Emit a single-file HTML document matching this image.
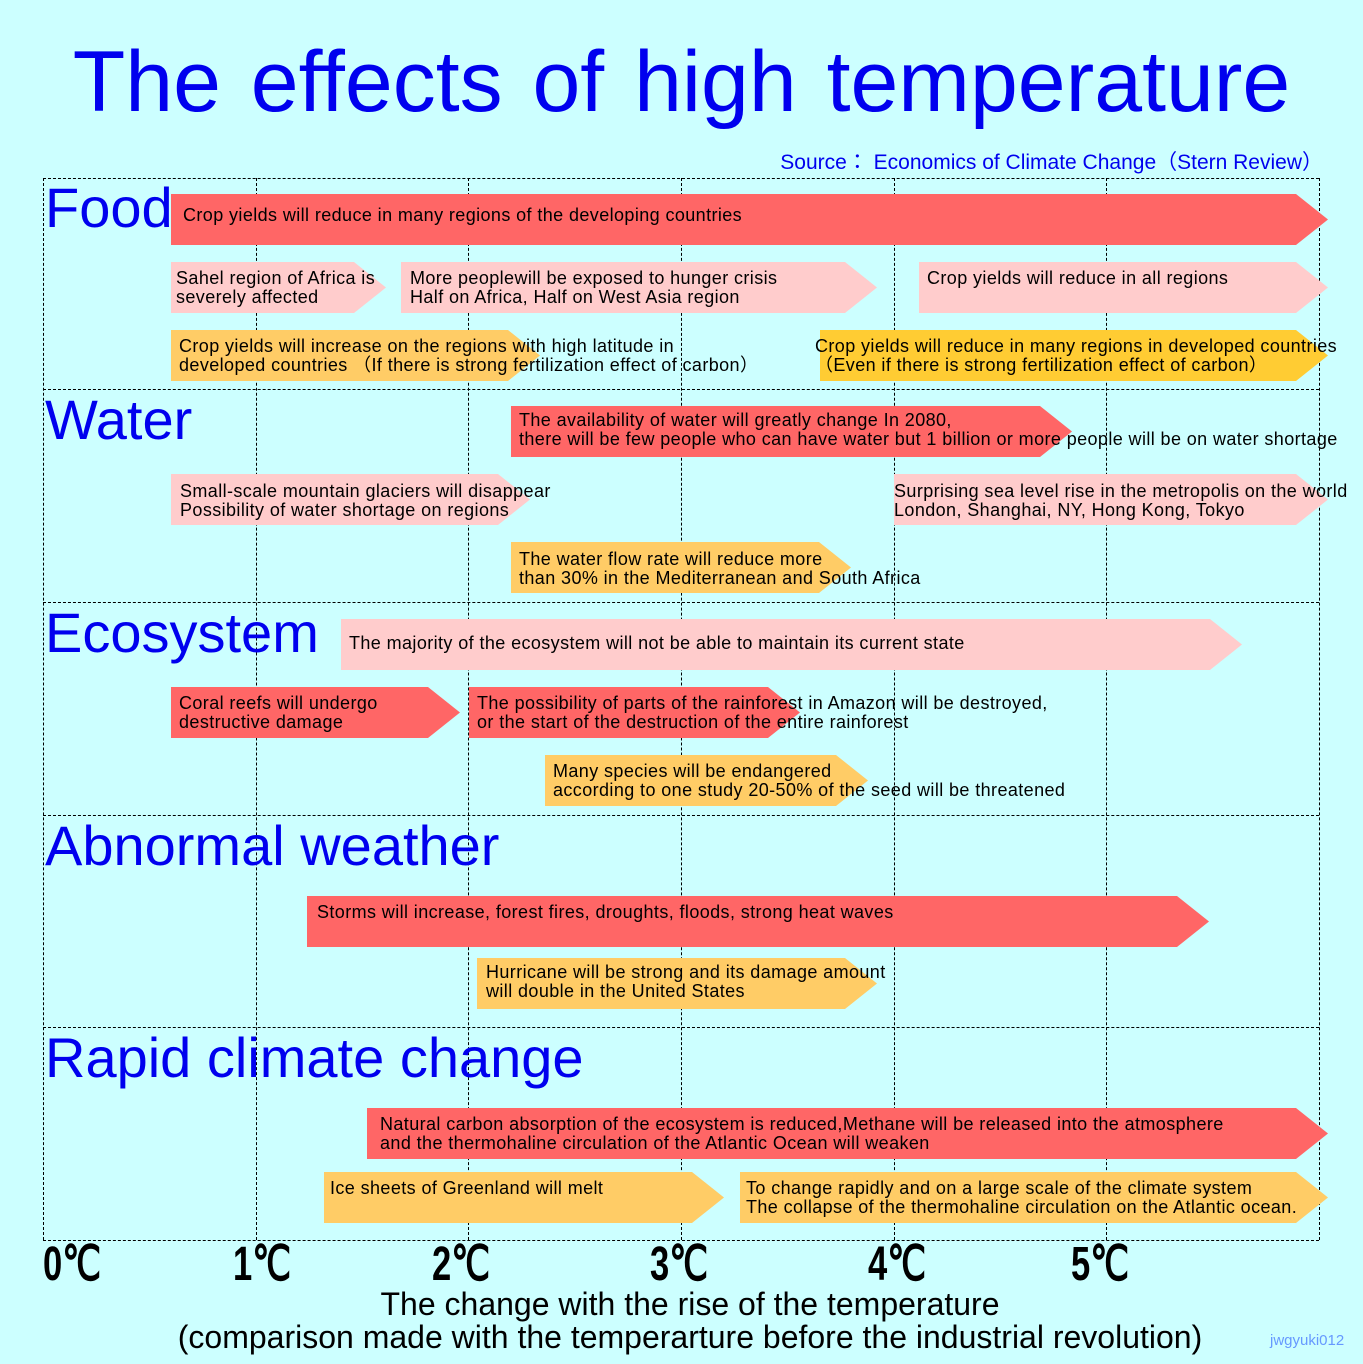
<!DOCTYPE html>
<html><head><meta charset="utf-8"><style>
*{margin:0;padding:0}
body{width:1363px;height:1364px;background:#ccffff;position:relative;overflow:hidden;font-family:"Liberation Sans","Noto Sans CJK JP",sans-serif}
.a{position:absolute;height:51px;}
.a .s{position:absolute;left:0;top:0;width:100%;height:100%;}
.a .t{position:absolute;left:8px;white-space:nowrap;font-size:18px;letter-spacing:0.4px;line-height:19px;color:#000}
.r{background:#ff6666}.p{background:#ffcccc}.o{background:#ffcc66}.d{background:#ffcc33}
.v{position:absolute;top:178px;height:1062px;border-left:1px dashed #000;width:0}
.h{position:absolute;left:43px;width:1276px;border-top:1px dashed #000;height:0}
.sec{position:absolute;left:45px;color:#0000ee;font-size:56px;line-height:56px}
.ax{position:absolute;top:1236px;font-family:"Liberation Sans Narrow","Liberation Sans",sans-serif;font-weight:bold;font-size:48px;transform:scaleX(0.72);transform-origin:left}
</style></head><body>
<div style="position:absolute;left:0;top:36px;width:1363px;text-align:center;color:#0000ee;font-size:86px;line-height:92px;word-spacing:6px">The effects of high temperature</div>
<div style="position:absolute;right:40px;top:146px;color:#0000ee;font-size:21px">Source： Economics of Climate Change（Stern Review）</div>
<div class="v" style="left:43px"></div><div class="v" style="left:256px"></div><div class="v" style="left:468px"></div><div class="v" style="left:681px"></div><div class="v" style="left:894px"></div><div class="v" style="left:1106px"></div><div class="v" style="left:1319px"></div>
<div class="h" style="top:178px"></div><div class="h" style="top:389px"></div><div class="h" style="top:602px"></div><div class="h" style="top:815px"></div><div class="h" style="top:1027px"></div><div class="h" style="top:1240px"></div>
<div class="sec" style="top:180px">Food</div>
<div class="sec" style="top:392px">Water</div>
<div class="sec" style="top:605px">Ecosystem</div>
<div class="sec" style="top:818px">Abnormal weather</div>
<div class="sec" style="top:1030px">Rapid climate change</div>

<div class="a" style="left:171px;top:194px;width:1157px"><div class="s r" style="clip-path:polygon(0 0,calc(100% - 32px) 0,100% 50%,calc(100% - 32px) 100%,0 100%)"></div><div class="t" style="left:12px;top:12px">Crop yields will reduce in many regions of the developing countries</div></div>
<div class="a" style="left:171px;top:262px;width:215px"><div class="s p" style="clip-path:polygon(0 0,calc(100% - 32px) 0,100% 50%,calc(100% - 32px) 100%,0 100%)"></div><div class="t" style="left:5px;top:7px">Sahel region of Africa is<br>severely affected</div></div>
<div class="a" style="left:401px;top:262px;width:476px"><div class="s p" style="clip-path:polygon(0 0,calc(100% - 32px) 0,100% 50%,calc(100% - 32px) 100%,0 100%)"></div><div class="t" style="left:9px;top:7px">More peoplewill be exposed to hunger crisis<br>Half on Africa, Half on West Asia region</div></div>
<div class="a" style="left:919px;top:262px;width:409px"><div class="s p" style="clip-path:polygon(0 0,calc(100% - 32px) 0,100% 50%,calc(100% - 32px) 100%,0 100%)"></div><div class="t" style="left:8px;top:7px">Crop yields will reduce in all regions</div></div>
<div class="a" style="left:171px;top:330px;width:369px"><div class="s o" style="clip-path:polygon(0 0,calc(100% - 32px) 0,100% 50%,calc(100% - 32px) 100%,0 100%)"></div><div class="t" style="top:7px">Crop yields will increase on the regions with high latitude in<br>developed countries （If there is strong fertilization effect of carbon）</div></div>
<div class="a" style="left:820px;top:330px;width:508px"><div class="s d" style="clip-path:polygon(0 0,calc(100% - 32px) 0,100% 50%,calc(100% - 32px) 100%,0 100%)"></div><div class="t" style="left:-5px;top:7px">Crop yields will reduce in many regions in developed countries<br>（Even if there is strong fertilization effect of carbon）</div></div>

<div class="a" style="left:511px;top:406px;width:561px"><div class="s r" style="clip-path:polygon(0 0,calc(100% - 32px) 0,100% 50%,calc(100% - 32px) 100%,0 100%)"></div><div class="t" style="top:5px">The availability of water will greatly change In 2080,<br>there will be few people who can have water but 1 billion or more people will be on water shortage</div></div>
<div class="a" style="left:171px;top:474px;width:359px"><div class="s p" style="clip-path:polygon(0 0,calc(100% - 32px) 0,100% 50%,calc(100% - 32px) 100%,0 100%)"></div><div class="t" style="left:9px;top:8px">Small-scale mountain glaciers will disappear<br>Possibility of water shortage on regions</div></div>
<div class="a" style="left:894px;top:474px;width:434px"><div class="s p" style="clip-path:polygon(0 0,calc(100% - 32px) 0,100% 50%,calc(100% - 32px) 100%,0 100%)"></div><div class="t" style="left:0;top:8px">Surprising sea level rise in the metropolis on the world<br>London, Shanghai, NY, Hong Kong, Tokyo</div></div>
<div class="a" style="left:511px;top:542px;width:340px"><div class="s o" style="clip-path:polygon(0 0,calc(100% - 32px) 0,100% 50%,calc(100% - 32px) 100%,0 100%)"></div><div class="t" style="top:8px">The water flow rate will reduce more<br>than 30% in the Mediterranean and South Africa</div></div>

<div class="a" style="left:341px;top:619px;width:901px"><div class="s p" style="clip-path:polygon(0 0,calc(100% - 32px) 0,100% 50%,calc(100% - 32px) 100%,0 100%)"></div><div class="t" style="top:15px">The majority of the ecosystem will not be able to maintain its current state</div></div>
<div class="a" style="left:171px;top:687px;width:289px"><div class="s r" style="clip-path:polygon(0 0,calc(100% - 32px) 0,100% 50%,calc(100% - 32px) 100%,0 100%)"></div><div class="t" style="top:7px">Coral reefs will undergo<br>destructive damage</div></div>
<div class="a" style="left:469px;top:687px;width:331px"><div class="s r" style="clip-path:polygon(0 0,calc(100% - 32px) 0,100% 50%,calc(100% - 32px) 100%,0 100%)"></div><div class="t" style="top:7px">The possibility of parts of the rainforest in Amazon will be destroyed,<br>or the start of the destruction of the entire rainforest</div></div>
<div class="a" style="left:545px;top:755px;width:323px"><div class="s o" style="clip-path:polygon(0 0,calc(100% - 32px) 0,100% 50%,calc(100% - 32px) 100%,0 100%)"></div><div class="t" style="top:7px">Many species will be endangered<br>according to one study 20-50% of the seed will be threatened</div></div>

<div class="a" style="left:307px;top:896px;width:902px"><div class="s r" style="clip-path:polygon(0 0,calc(100% - 32px) 0,100% 50%,calc(100% - 32px) 100%,0 100%)"></div><div class="t" style="left:10px;top:7px">Storms will increase, forest fires, droughts, floods, strong heat waves</div></div>
<div class="a" style="left:477px;top:958px;width:400px"><div class="s o" style="clip-path:polygon(0 0,calc(100% - 32px) 0,100% 50%,calc(100% - 32px) 100%,0 100%)"></div><div class="t" style="left:9px;top:5px">Hurricane will be strong and its damage amount<br>will double in the United States</div></div>

<div class="a" style="left:367px;top:1108px;width:961px"><div class="s r" style="clip-path:polygon(0 0,calc(100% - 32px) 0,100% 50%,calc(100% - 32px) 100%,0 100%)"></div><div class="t" style="left:13px;top:7px">Natural carbon absorption of the ecosystem is reduced,Methane will be released into the atmosphere<br>and the thermohaline circulation of the Atlantic Ocean will weaken</div></div>
<div class="a" style="left:324px;top:1172px;width:400px"><div class="s o" style="clip-path:polygon(0 0,calc(100% - 32px) 0,100% 50%,calc(100% - 32px) 100%,0 100%)"></div><div class="t" style="left:6px;top:7px">Ice sheets of Greenland will melt</div></div>
<div class="a" style="left:740px;top:1172px;width:588px"><div class="s o" style="clip-path:polygon(0 0,calc(100% - 32px) 0,100% 50%,calc(100% - 32px) 100%,0 100%)"></div><div class="t" style="left:6px;top:7px">To change rapidly and on a large scale of the climate system<br>The collapse of the thermohaline circulation on the Atlantic ocean.</div></div>

<div class="ax" style="left:43px">0℃</div>
<div class="ax" style="left:233px">1℃</div>
<div class="ax" style="left:432px">2℃</div>
<div class="ax" style="left:650px">3℃</div>
<div class="ax" style="left:868px">4℃</div>
<div class="ax" style="left:1071px">5℃</div>
<div style="position:absolute;left:0;width:1380px;top:1288px;text-align:center;font-size:32px;line-height:33px">The change with the rise of the temperature<br>(comparison made with the temperarture before the industrial revolution)</div>
<div style="position:absolute;left:1270px;top:1332px;color:#6699ff;font-size:15px">jwgyuki012</div>
</body></html>
